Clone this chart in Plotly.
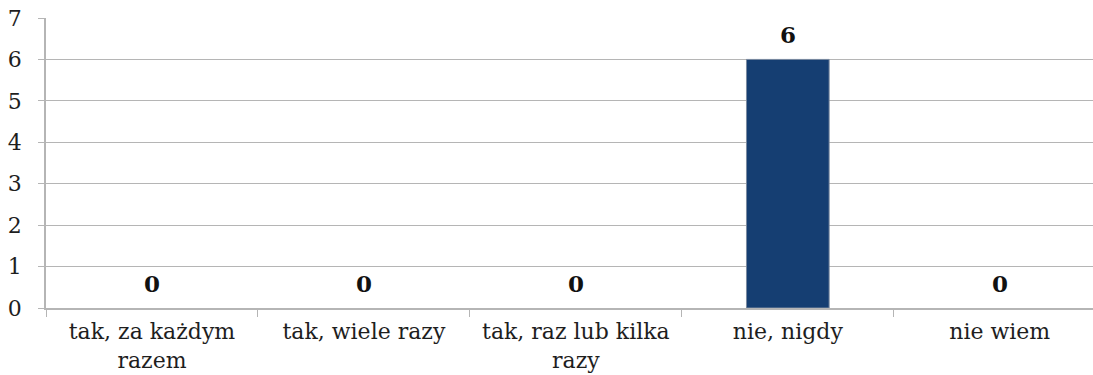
import plotly.graph_objects as go

# Survey answers and response counts
categories = ["tak, za każdym razem", "tak, wiele razy", "tak, raz lub kilka razy", "nie, nigdy", "nie wiem"]
tick_labels = ["tak, za każdym<br>razem", "tak, wiele razy", "tak, raz lub kilka<br>razy", "nie, nigdy", "nie wiem"]
counts = [0, 0, 0, 6, 0]
y_ticks = [0, 1, 2, 3, 4, 5, 6, 7]

FONT = "DejaVu Serif"
GRID = "#b5b5b5"

fig = go.Figure()
fig.add_trace(go.Bar(
    x=categories,
    y=counts,
    width=0.39,
    marker=dict(
        color="#153e72",
        line=dict(color="#7a8aa0", width=[1 if v > 0 else 0 for v in counts]),
    ),
    hoverinfo="skip",
))

# Value labels above each bar
for cat, val in zip(categories, counts):
    fig.add_annotation(
        x=cat, y=val, text=f"<b>{val}</b>", showarrow=False,
        yanchor="bottom", yshift=9,
        font=dict(family=FONT, size=23, color="#111111"),
    )

fig.update_layout(
    width=1093, height=375,
    margin=dict(l=46, r=0, t=18, b=67),
    paper_bgcolor="white", plot_bgcolor="white",
    showlegend=False,
    font=dict(family=FONT, size=22, color="#222222"),
    bargap=0.61,
)
fig.update_xaxes(
    tickmode="array", tickvals=categories, ticktext=tick_labels,
    range=[-0.5, 4.44], automargin=False,
    tickson="boundaries", ticks="outside", ticklen=7, tickcolor=GRID,
    showline=True, linecolor=GRID, linewidth=1.5,
    showgrid=False, tickangle=0, ticklabelstandoff=3,
    tickfont=dict(family=FONT, size=22, color="#1e1e1e"),
)
fig.update_yaxes(
    range=[0, 7], tickvals=y_ticks, automargin=False,
    ticks="outside", ticklen=6, tickcolor=GRID,
    showline=True, linecolor=GRID, linewidth=1.5,
    showgrid=True, gridcolor=GRID, gridwidth=1.3,
    zeroline=False, ticklabelstandoff=12,
    tickfont=dict(family=FONT, size=22, color="#1e1e1e"),
)

fig.write_html("out.html")
